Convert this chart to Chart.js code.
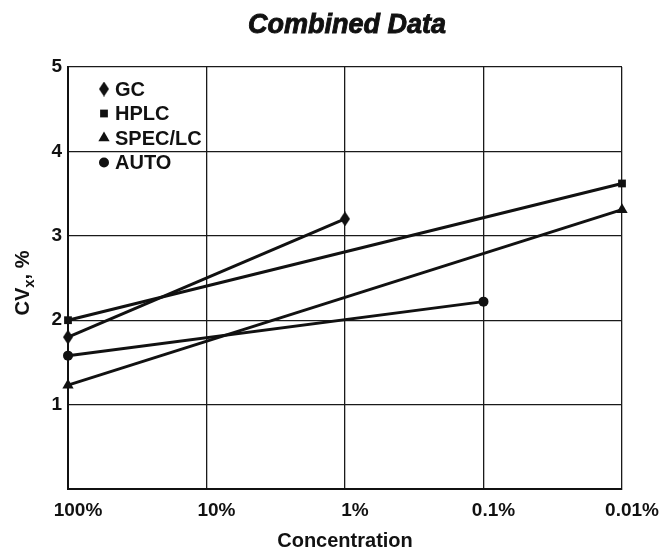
<!DOCTYPE html>
<html>
<head>
<meta charset="utf-8">
<title>Combined Data</title>
<script src="https://cdn.jsdelivr.net/npm/chart.js@4/dist/chart.umd.min.js"></script>
<style>
  html, body { margin: 0; padding: 0; background: #ffffff; }
  #wrap { width: 664px; height: 551px; }
</style>
</head>
<body>
<div id="wrap"><canvas id="cv" width="664" height="551"></canvas></div>
<script>
// Concentration levels along the horizontal axis
const concentrationLabels = ['100%', '10%', '1%', '0.1%', '0.01%'];

// CVx (%) per method; null where a method has no measurement
const gcValues      = [1.8,  null, 3.2,  null, null];
const hplcValues    = [2.0,  null, null, null, 3.62];
const specLcValues  = [1.23, null, null, null, 3.31];
const autoValues    = [1.58, null, null, 2.22, null];

const seriesNames = ['GC', 'HPLC', 'SPEC/LC', 'AUTO'];
const chartTitle = 'Combined Data';

const FONT = '"Liberation Sans", Arial, Helvetica, sans-serif';
const INK = '#111111';

// Tall narrow diamond used as the GC marker
function makeDiamond(w, h) {
  const c = document.createElement('canvas');
  c.width = w; c.height = h;
  const g = c.getContext('2d');
  g.fillStyle = INK;
  g.beginPath();
  g.moveTo(w / 2, 0);
  g.lineTo(w, h / 2);
  g.lineTo(w / 2, h);
  g.lineTo(0, h / 2);
  g.closePath();
  g.fill();
  return c;
}
const diamond = makeDiamond(10, 15);

function series(label, data, pointStyle, radius) {
  return {
    label, data, pointStyle,
    pointRadius: radius,
    pointHoverRadius: radius,
    pointBackgroundColor: INK,
    pointBorderColor: INK,
    pointBorderWidth: 0,
    borderColor: INK,
    borderWidth: 3,
    spanGaps: true,
    tension: 0,
    fill: false,
    clip: false
  };
}

// Heavy oblique heading centred over the plot area
const heading = {
  id: 'heading',
  afterDraw(chart) {
    const { ctx, chartArea } = chart;
    ctx.save();
    ctx.font = 'italic bold 27px ' + FONT;
    ctx.fillStyle = INK;
    ctx.strokeStyle = INK;
    ctx.lineWidth = 0.9;
    ctx.textAlign = 'center';
    ctx.textBaseline = 'alphabetic';
    const x = (chartArea.left + chartArea.right) / 2 + 2;
    ctx.fillText(chartTitle, x, 33);
    ctx.strokeText(chartTitle, x, 33);
    ctx.restore();
  }
};

// Legend drawn inside the plot area, top-left corner
const insideLegend = {
  id: 'insideLegend',
  afterDatasetsDraw(chart) {
    const { ctx, chartArea } = chart;
    const x0 = chartArea.left + 36;
    const y0 = chartArea.top + 22;
    const step = 24.5;
    ctx.save();
    ctx.font = 'bold 20px ' + FONT;
    ctx.textBaseline = 'middle';
    ctx.textAlign = 'left';
    chart.data.datasets.forEach((ds, i) => {
      const y = y0 + i * step;
      Chart.helpers.drawPoint(ctx, {
        pointStyle: ds.pointStyle,
        radius: ds.pointRadius,
        rotation: 0,
        borderWidth: 0
      }, x0, y);
      ctx.fillStyle = INK;
      ctx.fillText(ds.label, x0 + 11, y + 1);
    });
    ctx.restore();
  }
};

// Vertical axis title with subscript: CVx, %
const yAxisTitle = {
  id: 'yAxisTitle',
  afterDraw(chart) {
    const { ctx, chartArea } = chart;
    const cx = 22;
    const cy = (chartArea.top + chartArea.bottom) / 2 + 5;
    const big = 'bold 20px ' + FONT;
    const small = 'bold 15px ' + FONT;
    ctx.save();
    ctx.translate(cx, cy);
    ctx.rotate(-Math.PI / 2);
    ctx.fillStyle = INK;
    ctx.textBaseline = 'alphabetic';
    ctx.textAlign = 'left';
    ctx.font = big;  const w1 = ctx.measureText('CV').width;
    ctx.font = small; const w2 = ctx.measureText('x').width;
    ctx.font = big;  const w3 = ctx.measureText(',').width;
    const w4 = ctx.measureText(' %').width;
    let x = -(w1 + w2 + w3 + w4) / 2;
    const base = 7;
    ctx.font = big;  ctx.fillText('CV', x, base); x += w1;
    ctx.font = small; ctx.fillText('x', x, base + 5); x += w2;
    ctx.font = big;  ctx.fillText(',', x, base); x += w3;
    ctx.fillText(' %', x, base);
    ctx.restore();
  }
};

new Chart(document.getElementById('cv'), {
  type: 'line',
  data: {
    labels: concentrationLabels,
    datasets: [
      series(seriesNames[0], gcValues, diamond, 7),
      series(seriesNames[1], hplcValues, 'rect', 5.5),
      series(seriesNames[2], specLcValues, 'triangle', 6.5),
      series(seriesNames[3], autoValues, 'circle', 5)
    ]
  },
  options: {
    responsive: false,
    animation: false,
    layout: { padding: { left: 0, right: 42, top: 67, bottom: 0 } },
    plugins: {
      legend: { display: false },
      tooltip: { enabled: false },
      title: { display: false }
    },
    scales: {
      x: {
        type: 'category',
        offset: false,
        grid: { color: '#1a1a1a', lineWidth: 1.3, drawTicks: false, offset: false },
        border: { color: INK, width: 2 },
        ticks: {
          color: INK, padding: 10, maxRotation: 0, autoSkip: false, labelOffset: 10,
          font: { family: FONT, size: 19, weight: 'bold' }
        },
        title: {
          display: true,
          text: 'Concentration',
          color: INK,
          font: { family: FONT, size: 20, weight: 'bold', lineHeight: 1 },
          padding: { top: 0, bottom: 0 }
        },
        afterFit(scale) { scale.height = 62; }
      },
      y: {
        min: 0,
        max: 5,
        grid: { color: '#1a1a1a', lineWidth: 1.3, drawTicks: false },
        border: { color: INK, width: 2 },
        ticks: {
          stepSize: 1, color: INK, padding: 6,
          font: { family: FONT, size: 19, weight: 'bold' },
          callback: (v) => (v === 0 ? '' : v)
        },
        afterFit(scale) { scale.width = 68; }
      }
    }
  },
  plugins: [heading, insideLegend, yAxisTitle]
});
</script>
</body>
</html>
